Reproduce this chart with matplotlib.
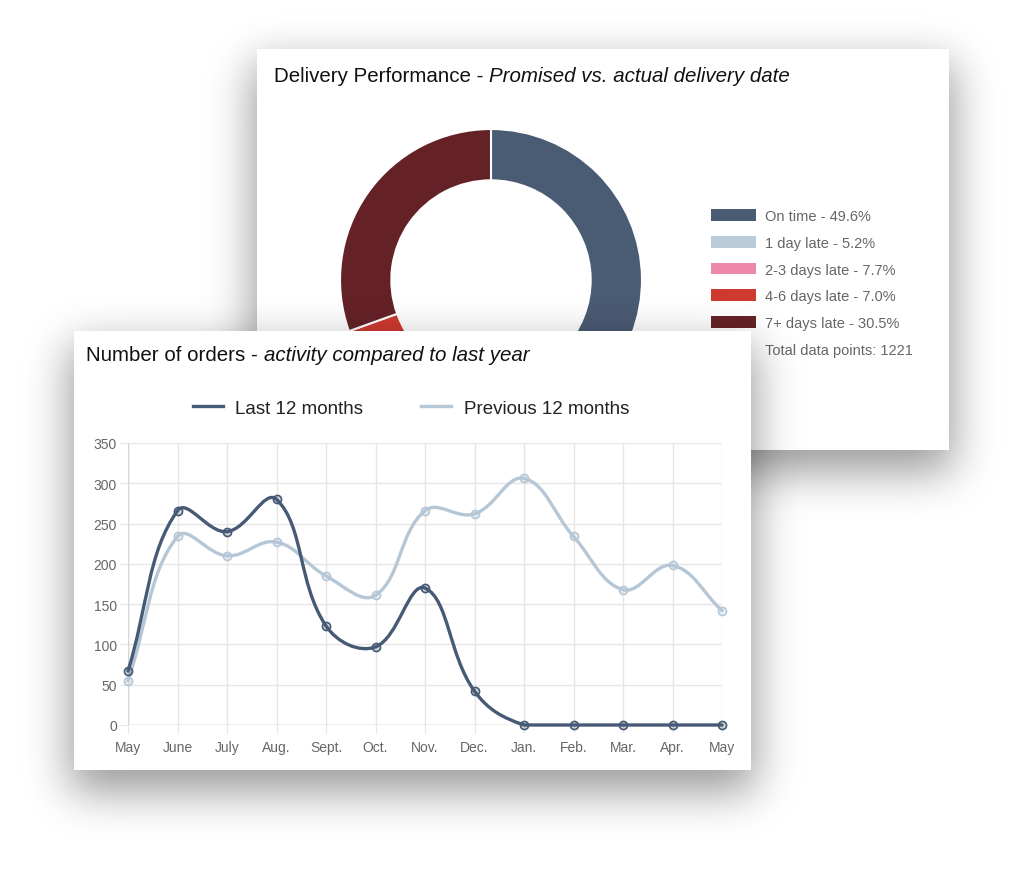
import numpy as np
import matplotlib
matplotlib.use("Agg")
import matplotlib.pyplot as plt
from matplotlib.path import Path
from matplotlib.patches import PathPatch, Rectangle

plt.rcParams['font.family'] = ['Liberation Sans', 'DejaVu Sans']

# Delivery performance donut
delivery_labels = ['On time', '1 day late', '2-3 days late', '4-6 days late', '7+ days late']
delivery_share = [49.6, 5.2, 7.7, 7.0, 30.5]
delivery_colors = ['#4a5b74', '#b9cad8', '#ee88ab', '#cf3a30', '#652226']
total_points = 1221

# Number of orders
months = ['May', 'June', 'July', 'Aug.', 'Sept.', 'Oct.', 'Nov.', 'Dec.',
          'Jan.', 'Feb.', 'Mar.', 'Apr.', 'May']
last_12 = [67, 266, 240, 280, 123, 97, 170, 42, 0, 0, 0, 0, 0]
prev_12 = [55, 234, 210, 227, 185, 161, 266, 262, 306, 234, 168, 198, 142]
dark = '#475a75'
light = '#b5c7d6'

W, H = 1024, 870
fig = plt.figure(figsize=(W / 100, H / 100), dpi=100)


def pix_axes(x0, y0, x1, y1, z):
    return fig.add_axes([x0 / W, 1 - y1 / H, (x1 - x0) / W, (y1 - y0) / H], zorder=z)


def blur(a, sigma):
    r = np.arange(-3 * sigma, 3 * sigma + 1)
    k = np.exp(-0.5 * (r / sigma) ** 2)
    k /= k.sum()
    a = np.apply_along_axis(lambda m: np.convolve(m, k, mode='same'), 0, a)
    return np.apply_along_axis(lambda m: np.convolve(m, k, mode='same'), 1, a)


def shadow_img(card, dy=18, spread=4, sigma=22, amax=0.4):
    x0, y0, x1, y1 = card
    a = np.zeros((H, W))
    a[max(y0 + dy - spread, 0):y1 + dy + spread, max(x0 - spread, 0):x1 + spread] = 1
    a = blur(a, sigma)
    img = np.zeros((H, W, 4))
    img[..., 3] = np.clip(a, 0, 1) * amax
    return img


def background(card, z):
    ax = fig.add_axes([0, 0, 1, 1], zorder=z)
    ax.set_xlim(0, W)
    ax.set_ylim(H, 0)
    ax.axis('off')
    ax.patch.set_alpha(0)
    ax.imshow(shadow_img(card), extent=(0, W, H, 0), interpolation='bilinear', aspect='auto')
    x0, y0, x1, y1 = card
    ax.add_patch(Rectangle((x0, y0), x1 - x0, y1 - y0, facecolor='white', edgecolor='none'))
    return ax


def title(ax, x, y, main, sub):
    t = ax.text(x, y, main + ' - ', fontsize=14.8, color='#111111', va='center', ha='left')
    ax.annotate(sub, xy=(1, 0), xycoords=t, fontsize=14.8, style='italic', color='#111111',
                va='bottom', ha='left')


# ---- card 1: donut ----
card1 = (257, 50, 949, 451)
bg1 = background(card1, 0)
title(bg1, 274, 77, 'Delivery Performance', 'Promised vs. actual delivery date')

cx, cy, r = 491, 281, 151
axd = pix_axes(cx - r * 1.05, cy - r * 1.05, cx + r * 1.05, cy + r * 1.05, 1)
wedges, _ = axd.pie(delivery_share, colors=delivery_colors, startangle=90, counterclock=False,
                    radius=1, wedgeprops=dict(width=0.34, edgecolor='white', linewidth=1.5))
axd.set_xlim(-1.05, 1.05)
axd.set_ylim(-1.05, 1.05)
axd.set_aspect('equal')
axd.axis('off')

leg_labels = [f'{l} - {v:.1f}%' for l, v in zip(delivery_labels, delivery_share)]
handles = [Rectangle((0, 0), 1, 1, facecolor=c, edgecolor='none') for c in delivery_colors]
handles.append(Rectangle((0, 0), 1, 1, facecolor='none', edgecolor='none'))
leg_labels.append(f'Total data points: {total_points}')
leg = axd.legend(handles, leg_labels, loc='center left',
                 bbox_to_anchor=(711 / W, 1 - 284 / H), bbox_transform=fig.transFigure,
                 frameon=False, fontsize=10.5, handlelength=3.1, handleheight=0.85,
                 handletextpad=0.6, labelspacing=0.87, borderpad=0, borderaxespad=0)
for t in leg.get_texts():
    t.set_color('#666666')

# ---- card 2: line chart ----
card2 = (74, 332, 751, 771)
bg2 = background(card2, 2)
title(bg2, 86, 356, 'Number of orders', 'activity compared to last year')

axl = pix_axes(128, 444, 722, 726, 3)
axl.patch.set_alpha(0)
x = np.arange(len(months))
axl.set_xlim(0, len(months) - 1)
axl.set_ylim(0, 350)
sx, sy = 594 / 12, 282 / 350


def spline(xs, ys, t=0.4):
    xs, ys = np.asarray(xs, float), np.asarray(ys, float)
    n = len(xs)
    c1, c2 = [], []
    for i in range(n):
        p, q = max(i - 1, 0), min(i + 1, n - 1)
        d01 = np.hypot((xs[i] - xs[p]) * sx, (ys[i] - ys[p]) * sy)
        d12 = np.hypot((xs[q] - xs[i]) * sx, (ys[q] - ys[i]) * sy)
        s = d01 + d12
        fa = t * d01 / s if s else 0
        fb = t * d12 / s if s else 0
        c1.append((xs[i] - fa * (xs[q] - xs[p]), np.clip(ys[i] - fa * (ys[q] - ys[p]), 0, 350)))
        c2.append((xs[i] + fb * (xs[q] - xs[p]), np.clip(ys[i] + fb * (ys[q] - ys[p]), 0, 350)))
    verts = [(xs[0], ys[0])]
    codes = [Path.MOVETO]
    for i in range(n - 1):
        verts += [c2[i], c1[i + 1], (xs[i + 1], ys[i + 1])]
        codes += [Path.CURVE4] * 3
    return Path(verts, codes)


for ys, col, z in [(prev_12, light, 2), (last_12, dark, 3)]:
    axl.add_patch(PathPatch(spline(x, ys), facecolor='none', edgecolor=col, lw=2.4,
                            zorder=z, clip_on=False, capstyle='round'))
    rgb = matplotlib.colors.to_rgb(col)
    axl.scatter(x, ys, s=34, facecolors=[(*rgb, 0.25)], edgecolors=col, linewidths=1.2,
                zorder=z + 0.5, clip_on=False)

axl.plot([], [], color=dark, lw=2.4, label='Last 12 months')
axl.plot([], [], color=light, lw=2.4, label='Previous 12 months')
leg2 = axl.legend(loc='center', bbox_to_anchor=(411 / W, 1 - 409 / H),
                  bbox_transform=fig.transFigure, ncol=2, frameon=False, fontsize=13.5,
                  handlelength=1.6, handletextpad=0.65, columnspacing=3.1, borderpad=0)
for t in leg2.get_texts():
    t.set_color('#222222')

axl.set_xticks(x)
axl.set_xticklabels(months)
axl.set_yticks(np.arange(0, 351, 50))
axl.grid(True, color='#e6e6e6', lw=1)
axl.set_axisbelow(True)
for s in axl.spines.values():
    s.set_visible(False)
axl.axhline(0, color='#c4c4c4', lw=1, zorder=1)
axl.axvline(0, color='#d6d6d6', lw=1, zorder=1)
axl.tick_params(length=6, color='#e6e6e6', labelcolor='#666666', labelsize=10)
axl.tick_params(axis='y', pad=2)
axl.tick_params(axis='x', pad=4.5)

fig.savefig('out.png', dpi=100, facecolor='white')
